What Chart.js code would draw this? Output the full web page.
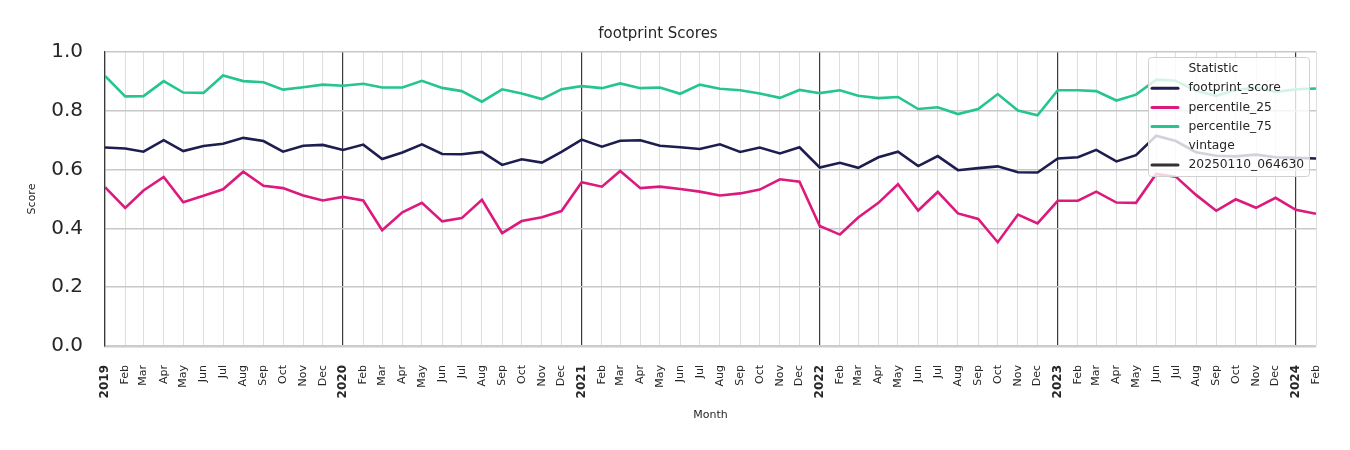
<!DOCTYPE html>
<html>
<head>
<meta charset="utf-8">
<script src="https://cdn.jsdelivr.net/npm/chart.js@4.4.1/dist/chart.umd.min.js"></script>
<style>
  html, body { margin: 0; padding: 0; background: #ffffff; }
  #wrap { width: 1350px; height: 450px; position: relative; }
</style>
</head>
<body>
<div id="wrap"><canvas id="c" width="1350" height="450"></canvas></div>
<script>
// ---- data ----
const months = [
  '2019-01','2019-02','2019-03','2019-04','2019-05','2019-06','2019-07','2019-08','2019-09','2019-10','2019-11','2019-12',
  '2020-01','2020-02','2020-03','2020-04','2020-05','2020-06','2020-07','2020-08','2020-09','2020-10','2020-11','2020-12',
  '2021-01','2021-02','2021-03','2021-04','2021-05','2021-06','2021-07','2021-08','2021-09','2021-10','2021-11','2021-12',
  '2022-01','2022-02','2022-03','2022-04','2022-05','2022-06','2022-07','2022-08','2022-09','2022-10','2022-11','2022-12',
  '2023-01','2023-02','2023-03','2023-04','2023-05','2023-06','2023-07','2023-08','2023-09','2023-10','2023-11','2023-12',
  '2024-01','2024-02'
];
const monthNames = ['Jan','Feb','Mar','Apr','May','Jun','Jul','Aug','Sep','Oct','Nov','Dec'];

const footprintScore = [
  0.675,0.672,0.661,0.700,0.663,0.680,0.688,0.708,0.697,0.661,0.681,0.684,
  0.667,0.685,0.636,0.658,0.686,0.653,0.652,0.660,0.616,0.635,0.624,0.660,
  0.702,0.678,0.698,0.700,0.681,0.676,0.670,0.686,0.660,0.675,0.655,0.676,
  0.607,0.623,0.606,0.642,0.661,0.612,0.646,0.598,0.605,0.611,0.591,0.590,
  0.638,0.642,0.667,0.628,0.649,0.715,0.697,0.659,0.647,0.645,0.651,0.642,
  0.640,0.638
];
const percentile25 = [
  0.540,0.470,0.529,0.575,0.489,0.511,0.533,0.593,0.545,0.537,0.512,0.495,
  0.507,0.495,0.394,0.455,0.487,0.424,0.435,0.497,0.384,0.425,0.438,0.459,
  0.557,0.542,0.595,0.537,0.542,0.534,0.525,0.512,0.519,0.532,0.567,0.559,
  0.408,0.379,0.437,0.487,0.550,0.461,0.524,0.451,0.432,0.353,0.447,0.417,
  0.494,0.494,0.525,0.488,0.487,0.585,0.576,0.514,0.460,0.499,0.470,0.504,
  0.463,0.450
];
const percentile75 = [
  0.919,0.849,0.850,0.901,0.862,0.861,0.920,0.901,0.897,0.872,0.880,0.889,
  0.885,0.892,0.879,0.879,0.902,0.878,0.867,0.831,0.873,0.859,0.840,0.873,
  0.884,0.877,0.893,0.877,0.879,0.858,0.889,0.875,0.870,0.859,0.844,0.871,
  0.860,0.870,0.851,0.843,0.847,0.806,0.812,0.789,0.806,0.857,0.801,0.785,
  0.870,0.870,0.867,0.835,0.855,0.906,0.902,0.868,0.851,0.871,0.879,0.864,
  0.873,0.876
];
const yTicks = [0.0, 0.2, 0.4, 0.6, 0.8, 1.0];
const statisticNames = ['footprint_score', 'percentile_25', 'percentile_75'];
const vintageNames = ['20250110_064630'];
const colors = { footprint_score: '#1e1d4f', percentile_25: '#dc1a7e', percentile_75: '#26c48f', vintage: '#333333' };

// ---- helpers: months -> days since first month (time-proportional axis) ----
const DAY = 86400000;
const t0 = Date.UTC(2019, 0, 1);
function dayOf(m) { const [y, mo] = m.split('-').map(Number); return (Date.UTC(y, mo - 1, 1) - t0) / DAY; }
const monthDays = months.map(dayOf);
const isYearStart = months.map(m => m.endsWith('-01'));
const dayIndex = new Map(monthDays.map((d, i) => [d, i]));
function labelFor(i) { const [y, mo] = months[i].split('-').map(Number); return mo === 1 ? String(y) : monthNames[mo - 1]; }
function toPoints(arr) { return arr.map((v, i) => ({ x: monthDays[i], y: v })); }
function tickIsYear(ctx) { const i = ctx.tick ? dayIndex.get(ctx.tick.value) : undefined; return i !== undefined && isYearStart[i]; }

const FONT = "'DejaVu Sans', sans-serif";

const legendPlugin = {
  id: 'customLegend',
  afterDraw(chart) {
    const ctx = chart.ctx;
    const x0 = 1148.5, y0 = 57.5, w = 161, h = 119, r = 3;
    ctx.save();
    ctx.beginPath();
    ctx.moveTo(x0 + r, y0);
    ctx.lineTo(x0 + w - r, y0); ctx.quadraticCurveTo(x0 + w, y0, x0 + w, y0 + r);
    ctx.lineTo(x0 + w, y0 + h - r); ctx.quadraticCurveTo(x0 + w, y0 + h, x0 + w - r, y0 + h);
    ctx.lineTo(x0 + r, y0 + h); ctx.quadraticCurveTo(x0, y0 + h, x0, y0 + h - r);
    ctx.lineTo(x0, y0 + r); ctx.quadraticCurveTo(x0, y0, x0 + r, y0);
    ctx.closePath();
    ctx.fillStyle = 'rgba(255,255,255,0.8)';
    ctx.fill();
    ctx.strokeStyle = '#d0d0d0';
    ctx.lineWidth = 1;
    ctx.stroke();

    const rows = [
      { text: 'Statistic', color: null },
      ...statisticNames.map(n => ({ text: n, color: colors[n] })),
      { text: 'vintage', color: null },
      ...vintageNames.map(n => ({ text: n, color: colors.vintage }))
    ];
    ctx.font = '12.3px ' + FONT;
    ctx.textBaseline = 'middle';
    ctx.textAlign = 'left';
    rows.forEach((row, i) => {
      const y = 69 + i * 19.2;
      if (row.color) {
        ctx.beginPath();
        ctx.moveTo(1152, y); ctx.lineTo(1178, y);
        ctx.strokeStyle = row.color; ctx.lineWidth = 3; ctx.lineCap = 'round';
        ctx.stroke();
      }
      ctx.fillStyle = '#262626';
      ctx.fillText(row.text, 1188.5, y);
    });
    ctx.restore();
  }
};

const dsCommon = { borderWidth: 2.6, pointRadius: 0, pointHoverRadius: 0, tension: 0, fill: false };

new Chart(document.getElementById('c'), {
  type: 'line',
  data: {
    datasets: [
      { ...dsCommon, label: 'footprint_score', data: toPoints(footprintScore), borderColor: colors.footprint_score },
      { ...dsCommon, label: 'percentile_25', data: toPoints(percentile25), borderColor: colors.percentile_25 },
      { ...dsCommon, label: 'percentile_75', data: toPoints(percentile75), borderColor: colors.percentile_75 }
    ]
  },
  options: {
    responsive: false,
    animation: false,
    devicePixelRatio: 1,
    layout: { padding: { left: 0, right: 34, top: 0, bottom: 0 } },
    plugins: {
      legend: { display: false },
      tooltip: { enabled: false },
      title: {
        display: true, text: 'footprint Scores', color: '#262626',
        font: { family: FONT, size: 15, weight: 'normal', lineHeight: 1.2 },
        padding: { top: 25, bottom: 9 }
      }
    },
    scales: {
      x: {
        type: 'linear',
        min: monthDays[0],
        max: monthDays[monthDays.length - 1],
        afterBuildTicks(scale) { scale.ticks = monthDays.map(v => ({ value: v })); },
        afterFit(scale) { scale.height = 104; },
        ticks: {
          autoSkip: false, minRotation: 90, maxRotation: 90, padding: 19, color: '#262626',
          font(ctx) {
            return tickIsYear(ctx)
              ? { family: FONT, size: 12, weight: 'bold' }
              : { family: FONT, size: 11, weight: 'normal' };
          },
          callback(value) { const i = dayIndex.get(value); return i === undefined ? '' : labelFor(i); }
        },
        grid: {
          drawTicks: false,
          color(ctx) { return tickIsYear(ctx) ? '#3a3a3a' : '#dedede'; },
          lineWidth(ctx) { return tickIsYear(ctx) ? 1.2 : 1; }
        },
        border: { display: true, color: '#cccccc', width: 2.5 },
        title: {
          display: true, text: 'Month', color: '#262626',
          font: { family: FONT, size: 11, lineHeight: 1.2 },
          padding: { top: 0, bottom: 28 }
        }
      },
      y: {
        min: 0, max: 1,
        afterBuildTicks(scale) { scale.ticks = yTicks.map(v => ({ value: v })); },
        afterFit(scale) { scale.width = 105; },
        ticks: {
          padding: 22, color: '#262626',
          font: { family: FONT, size: 20 },
          callback(v) { return Number(v).toFixed(1); }
        },
        grid: { drawTicks: false, color: '#c8c8c8', lineWidth: 1.5 },
        border: { display: true, color: '#3a3a3a', width: 1.2 },
        title: {
          display: true, text: 'Score', color: '#262626',
          font: { family: FONT, size: 11, lineHeight: 1.2 },
          padding: { top: 26, bottom: 0 }
        }
      }
    }
  },
  plugins: [legendPlugin]
});
</script>
</body>
</html>
